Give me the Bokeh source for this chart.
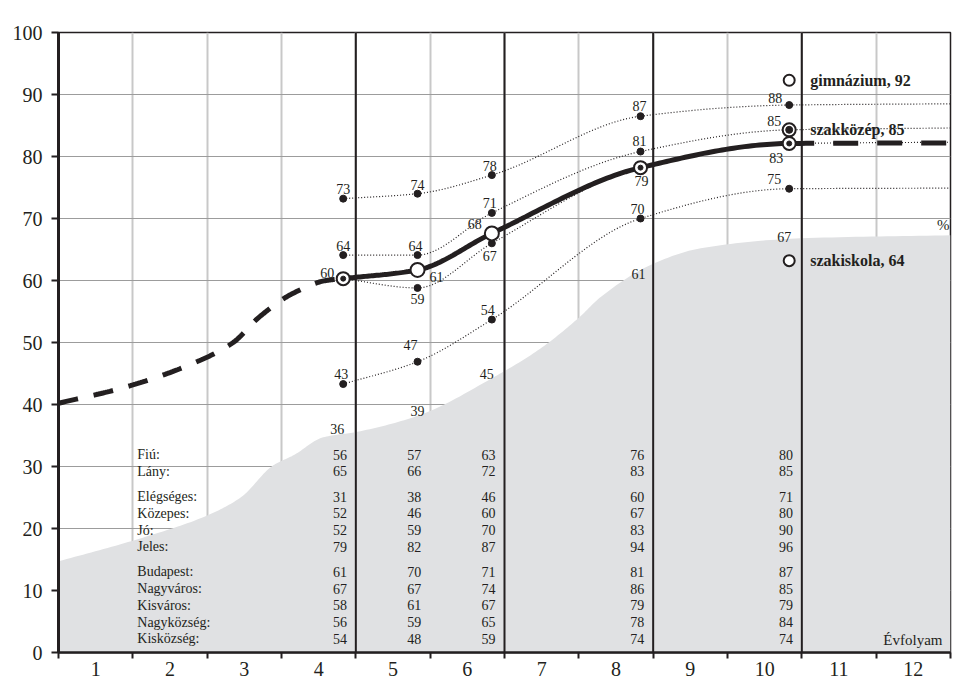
import numpy as np
from bokeh.plotting import figure
from bokeh.models import ColumnDataSource, FixedTicker, Label
from bokeh.core.properties import value
from bokeh.embed import file_html
from bokeh.resources import INLINE

# ---------------- data ----------------
grades = [4, 5, 6, 8, 10]                       # grades with measurements
x_labels = [str(i) for i in range(1, 13)]
y_ticks = [0, 10, 20, 30, 40, 50, 60, 70, 80, 90, 100]

# heavy main curve
main_vals = [60.3, 61.7, 67.6, 78.2, 82.1]
main_text = ["60", "61", "68", "79", "83"]
main_tail = 82.2
# dashed early part of the main curve
early_x = [0.5, 1.4, 2.4, 2.85, 3.2, 3.65, 4.1]
early_y = [40.2, 42.8, 47.1, 50.0, 54.1, 57.9, 60.0]

# dotted series
serA_vals = [73.2, 74.0, 77.0, 86.5, 88.3]
serA_text = ["73", "74", "78", "87", "88"]
serA_tail = 88.5
serB_vals = [64.1, 64.1, 70.9, 80.8, 84.3]
serB_text = ["64", "64", "71", "81", "85"]
serB_tail = 84.6
serC_vals = [60.3, 58.8, 66.0, 78.2, 82.1]
serC_text = [None, "59", "67", None, None]
serC_tail = 82.3
serD_vals = [43.3, 46.9, 53.7, 70.0, 74.8]
serD_text = ["43", "47", "54", "70", "75"]
serD_tail = 74.9

# shaded area (outline)
area_x = [0.5, 1.6, 2.5, 2.95, 3.39, 3.66, 4.06, 4.52, 5.36, 6.34, 6.98, 7.5, 7.79, 8.5, 9.14, 10.48, 12.5]
area_y = [14.7, 18.4, 22.1, 25.0, 30.2, 31.8, 34.7, 35.6, 38.3, 44.3, 49.0, 54.0, 57.3, 62.7, 65.2, 66.8, 67.3]
area_vals = [36, 39, 45, 61, 67]

# school types
school_names = ["gimnázium", "szakközép", "szakiskola"]
school_vals = [92, 85, 64]
school_pos = [92.3, 84.3, 63.2]

# table
row_names = ["Fiú:", "Lány:", "Elégséges:", "Közepes:", "Jó:", "Jeles:",
             "Budapest:", "Nagyváros:", "Kisváros:", "Nagyközség:", "Kisközség:"]
row_groups = [0, 0, 1, 1, 1, 1, 2, 2, 2, 2, 2]
tbl_fiu = [56, 57, 63, 76, 80]
tbl_lany = [65, 66, 72, 83, 85]
tbl_elegseges = [31, 38, 46, 60, 71]
tbl_kozepes = [52, 46, 60, 67, 80]
tbl_jo = [52, 59, 70, 83, 90]
tbl_jeles = [79, 82, 87, 94, 96]
tbl_budapest = [61, 70, 71, 81, 87]
tbl_nagyvaros = [67, 67, 74, 86, 85]
tbl_kisvaros = [58, 61, 67, 79, 79]
tbl_nagykozseg = [56, 59, 65, 78, 84]
tbl_kiskozseg = [54, 48, 59, 74, 74]
table_rows = [tbl_fiu, tbl_lany, tbl_elegseges, tbl_kozepes, tbl_jo, tbl_jeles,
              tbl_budapest, tbl_nagyvaros, tbl_kisvaros, tbl_nagykozseg, tbl_kiskozseg]

# ---------------- style ----------------
SERIF = "Liberation Serif"
INK = "#231f20"
AREA = "#e0e1e3"
X_SHIFT = 0.33
pt_x = [g + X_SHIFT for g in grades]
stage_bounds = [4.5, 6.5, 8.5, 10.5]


def pchip(xs, ys, n=30):
    xs = np.asarray(xs, float)
    ys = np.asarray(ys, float)
    h = np.diff(xs)
    d = np.diff(ys) / h
    m = np.zeros_like(ys)
    m[0] = d[0]
    m[-1] = d[-1]
    for k in range(1, len(xs) - 1):
        if d[k - 1] * d[k] <= 0:
            m[k] = 0.0
        else:
            w1 = 2 * h[k] + h[k - 1]
            w2 = h[k] + 2 * h[k - 1]
            m[k] = (w1 + w2) / (w1 / d[k - 1] + w2 / d[k])
    ox, oy = [], []
    for k in range(len(xs) - 1):
        t = np.linspace(0, 1, n, endpoint=(k == len(xs) - 2))
        h00 = 2 * t**3 - 3 * t**2 + 1
        h10 = t**3 - 2 * t**2 + t
        h01 = -2 * t**3 + 3 * t**2
        h11 = t**3 - t**2
        ox.extend(xs[k] + t * h[k])
        oy.extend(h00 * ys[k] + h10 * h[k] * m[k] + h01 * ys[k + 1] + h11 * h[k] * m[k + 1])
    return np.array(ox), np.array(oy)


p = figure(width=952, height=682, x_range=(0.5, 12.5), y_range=(0, 100),
           output_backend="svg", toolbar_location=None,
           min_border_left=58, min_border_right=2, min_border_top=32, min_border_bottom=30)
p.background_fill_color = "white"
p.border_fill_color = "white"
p.outline_line_color = INK
p.outline_line_width = 1.5

# axes
p.yaxis.ticker = FixedTicker(ticks=y_ticks)
p.yaxis.axis_line_width = 3
p.yaxis.axis_line_color = INK
p.yaxis.major_tick_out = 7
p.yaxis.major_tick_in = 0
p.yaxis.major_tick_line_width = 2
p.yaxis.major_tick_line_color = INK
p.yaxis.minor_tick_line_color = None
p.yaxis.major_label_standoff = 9
p.yaxis.major_label_text_font = SERIF
p.yaxis.major_label_text_font_size = "20px"
p.yaxis.major_label_text_color = INK

centers = list(range(1, 13))
p.xaxis.ticker = FixedTicker(ticks=centers, minor_ticks=[c - 0.5 for c in centers] + [12.5])
p.xaxis.major_label_overrides = {c: lab for c, lab in zip(centers, x_labels)}
p.xaxis.axis_line_width = 2.5
p.xaxis.axis_line_color = INK
p.xaxis.major_tick_line_color = None
p.xaxis.minor_tick_out = 6
p.xaxis.minor_tick_in = 0
p.xaxis.minor_tick_line_width = 2
p.xaxis.minor_tick_line_color = INK
p.xaxis.major_label_standoff = 3
p.xaxis.major_label_text_font = SERIF
p.xaxis.major_label_text_font_size = "20px"
p.xaxis.major_label_text_color = INK

# grid
p.ygrid.grid_line_color = "#9c9c9c"
p.ygrid.grid_line_width = 1.2
p.xgrid.grid_line_color = None
p.xgrid.minor_grid_line_color = "#c8c8c8"
p.xgrid.minor_grid_line_width = 2

# shaded area
ax, ay = pchip(area_x, area_y, 20)
p.varea(x=ax, y1=np.zeros_like(ay), y2=ay, fill_color=AREA)

# stage boundaries
p.segment(x0=stage_bounds, y0=[0] * 4, x1=stage_bounds, y1=[100] * 4, line_color=INK, line_width=2)

# dotted series
for vals, tail in [(serA_vals, serA_tail), (serB_vals, serB_tail), (serC_vals, serC_tail), (serD_vals, serD_tail)]:
    sx, sy = pchip(pt_x + [12.5], vals + [tail], 30)
    p.line(sx, sy, line_color=INK, line_width=1.2, line_dash="1 2")

# main curve
mx, my = pchip(pt_x + [12.5], main_vals + [main_tail], 40)
solid = mx <= pt_x[-1] + 1e-9
p.line(mx[solid], my[solid], line_color=INK, line_width=5)
tail_x = mx[~solid]
tail_y = my[~solid]
p.line(np.concatenate([[pt_x[-1]], tail_x]), np.concatenate([[main_vals[-1]], tail_y]),
       line_color=INK, line_width=5, line_dash="25 19")
ex, ey = pchip(early_x + [pt_x[0]], early_y + [main_vals[0]], 30)
p.line(ex, ey, line_color=INK, line_width=5, line_dash="20 16")

# markers on dotted series
p.scatter(pt_x, serA_vals, size=7, color=INK)
p.scatter(pt_x[:-1], serB_vals[:-1], size=7, color=INK)
p.scatter(pt_x[1:3], serC_vals[1:3], size=7, color=INK)
p.scatter(pt_x, serD_vals, size=7, color=INK)

# main markers
ring_idx = [0, 3, 4]
open_idx = [1, 2]
p.scatter([pt_x[i] for i in ring_idx], [main_vals[i] for i in ring_idx], size=13,
          fill_color="white", line_color=INK, line_width=2)
p.scatter([pt_x[i] for i in ring_idx], [main_vals[i] for i in ring_idx], size=5, color=INK)
p.scatter([pt_x[i] for i in open_idx], [main_vals[i] for i in open_idx], size=14,
          fill_color="white", line_color=INK, line_width=2)

# school markers
p.scatter([pt_x[-1], pt_x[-1]], [school_pos[0], school_pos[2]], marker="circle", size=11,
          fill_color="white", line_color=INK, line_width=2)
p.scatter([pt_x[-1]], [school_pos[1]], size=13, fill_color="white", line_color=INK, line_width=2)
p.scatter([pt_x[-1]], [school_pos[1]], size=7, color=INK)


def add_labels(xs, ys, texts, offs, size="14px", align="center"):
    keep = [i for i, t in enumerate(texts) if t]
    src = ColumnDataSource(dict(
        x=[xs[i] for i in keep], y=[ys[i] for i in keep], text=[texts[i] for i in keep],
        dx=[offs[i][0] for i in keep], dy=[offs[i][1] for i in keep]))
    p.text(x="x", y="y", text="text", x_offset="dx", y_offset="dy", source=src,
           text_align=align, text_baseline="middle", text_font=value(SERIF),
           text_font_size=size, text_color=INK)


add_labels(pt_x, serA_vals, serA_text, [(0, -10), (0, -9), (-2, -9), (-1, -10), (-14, -7)])
add_labels(pt_x, serB_vals, serB_text, [(0, -9), (-2, -9), (-2, -10), (-1, -11), (-15, -9)])
add_labels(pt_x, main_vals, main_text, [(-16, -6), (19, 7), (-17, -9), (1, 13), (-13, 15)])
add_labels(pt_x, serC_vals, serC_text, [(0, 0), (0, 11), (-2, 13), (0, 0), (0, 0)])
add_labels(pt_x, serD_vals, serD_text, [(-2, -10), (-7, -17), (-4, -10), (-3, -10), (-15, -10)])
add_labels(pt_x, area_vals, [str(v) for v in area_vals], [(-6, 0), (0, 0), (-5, 0), (-2, 0), (-5, 0)])

# school labels
school_src = ColumnDataSource(dict(
    x=[pt_x[-1]] * 3, y=school_pos,
    text=[f"{n}, {v}" for n, v in zip(school_names, school_vals)]))
p.text(x="x", y="y", text="text", x_offset=21, source=school_src, text_align="left",
       text_baseline="middle", text_font=value(SERIF), text_font_size="16px",
       text_font_style="bold", text_color=INK)

# table
row_y = []
yy = 31.9
for i, g in enumerate(row_groups):
    if i > 0:
        yy -= 2.7 + (1.35 if g != row_groups[i - 1] else 0)
    row_y.append(yy)
tbl_lbl = ColumnDataSource(dict(x=[1.56] * len(row_names), y=row_y, text=row_names))
p.text(x="x", y="y", text="text", source=tbl_lbl, text_align="left", text_baseline="middle",
       text_font=value(SERIF), text_font_size="14px", text_color=INK)
tx, ty, tt = [], [], []
for r, vals in enumerate(table_rows):
    for g, v in zip(grades, vals):
        tx.append(g + 0.38)
        ty.append(row_y[r])
        tt.append(str(v))
p.text(x=tx, y=ty, text=tt, text_align="right", text_baseline="middle",
       text_font=value(SERIF), text_font_size="14px", text_color=INK)

# free labels
p.add_layout(Label(x=0.5, y=100, x_offset=-10, y_offset=12, text="% p", text_font=SERIF,
                   text_font_size="15px", text_color=INK, text_baseline="alphabetic"))
p.add_layout(Label(x=12.5, y=area_y[-1], x_offset=-1, y_offset=2, text="%", text_font=SERIF,
                   text_font_size="15px", text_color=INK, text_align="right", text_baseline="bottom"))
p.add_layout(Label(x=12.5, y=0, x_offset=-8, y_offset=13, text="Évfolyam", text_font=SERIF,
                   text_font_size="15px", text_color=INK, text_align="right", text_baseline="middle"))

open("out.html", "w").write(file_html(p, INLINE))
